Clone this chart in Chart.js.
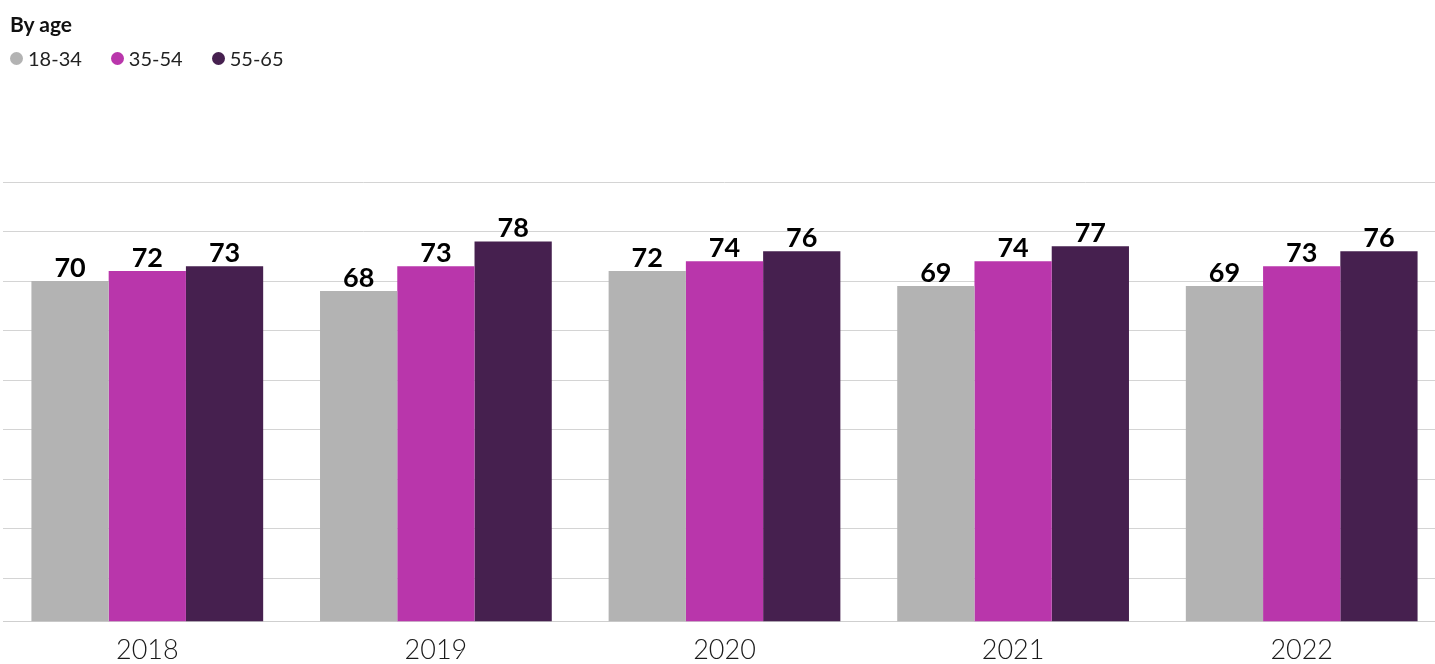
<!DOCTYPE html>
<html>
<head>
<meta charset="utf-8">
<title>By age</title>
<script src="https://cdn.jsdelivr.net/npm/chart.js@4"></script>
<style>
  html, body { margin: 0; padding: 0; background: #fff; overflow: hidden; }
  body { width: 1435px; height: 664px; position: relative; font-family: Lato, "Open Sans", sans-serif; }
  #wrap { position: absolute; left: 0; top: 0; width: 1449px; height: 664px; }
  #head { position: absolute; left: 10px; top: 12px; color: #111; z-index: 1; }
  #head h3 { margin: 0; font-size: 21px; font-weight: 700; line-height: 24px; }
  #legend { display: flex; margin-top: 10px; font-size: 20px; line-height: 24px; color: #222; }
  #legend .item { display: flex; align-items: center; margin-right: 29px; }
  #legend .dot { width: 13px; height: 13px; border-radius: 50%; margin-right: 5px; }
</style>
</head>
<body>
<div id="head">
  <h3>By age</h3>
  <div id="legend"></div>
</div>
<div id="wrap"><canvas id="ageChart"></canvas></div>
<script>
const years = ["2018", "2019", "2020", "2021", "2022"];
const ageGroups = ["18-34", "35-54", "55-65"];
const young = [70, 68, 72, 69, 69];
const middle = [72, 73, 74, 74, 73];
const older = [73, 78, 76, 77, 76];
const groupColors = ["#b3b3b3", "#b936ab", "#46204f"];
const gridTicks = [10, 20, 30, 40, 50, 60, 70, 80, 90];

const FONT = "Lato, 'Open Sans', sans-serif";

// value labels above each bar
const barValues = {
  id: "barValues",
  afterDatasetsDraw(chart) {
    const c = chart.ctx;
    c.save();
    c.font = "700 27px " + FONT;
    c.fillStyle = "#000";
    c.textAlign = "center";
    c.textBaseline = "alphabetic";
    chart.data.datasets.forEach((ds, i) => {
      chart.getDatasetMeta(i).data.forEach((bar, j) => {
        c.fillText(ds.data[j], bar.x, bar.y - 4);
      });
    });
    c.restore();
  },
};

const chart = new Chart(document.querySelector("#ageChart"), {
  type: "bar",
  data: {
    labels: years,
    datasets: [young, middle, older].map((vals, i) => ({
      label: ageGroups[i],
      data: vals,
      backgroundColor: groupColors[i],
      borderWidth: 0,
      categoryPercentage: 0.803,
      barPercentage: 1.0,
    })),
  },
  options: {
    responsive: true,
    maintainAspectRatio: false,
    animation: false,
    layout: { padding: { top: 182, left: 3, right: 3, bottom: 0 } },
    plugins: {
      legend: { display: false },
      tooltip: { enabled: false },
    },
    scales: {
      x: {
        grid: { display: false, tickLength: 16 },
        border: { display: true, color: "#cfcfcf", width: 1 },
        ticks: {
          color: "#1a1a1a",
          padding: 4,
          font: { family: FONT, size: 27, weight: "300", lineHeight: 0.69 },
        },
      },
      y: {
        min: 1.25,
        max: 90,
        afterBuildTicks: (scale) => {
          scale.ticks = gridTicks.map((v) => ({ value: v }));
        },
        ticks: { display: false },
        grid: { color: "#d4d4d4", lineWidth: 1, drawTicks: false },
        border: { display: false },
      },
    },
  },
  plugins: [barValues],
});

// html legend built from the datasets
const legendBox = document.querySelector("#legend");
chart.data.datasets.forEach((ds) => {
  const item = document.createElement("div");
  item.className = "item";
  const dot = document.createElement("span");
  dot.className = "dot";
  dot.style.background = ds.backgroundColor;
  const txt = document.createElement("span");
  txt.textContent = ds.label;
  item.appendChild(dot);
  item.appendChild(txt);
  legendBox.appendChild(item);
});
</script>
</body>
</html>
